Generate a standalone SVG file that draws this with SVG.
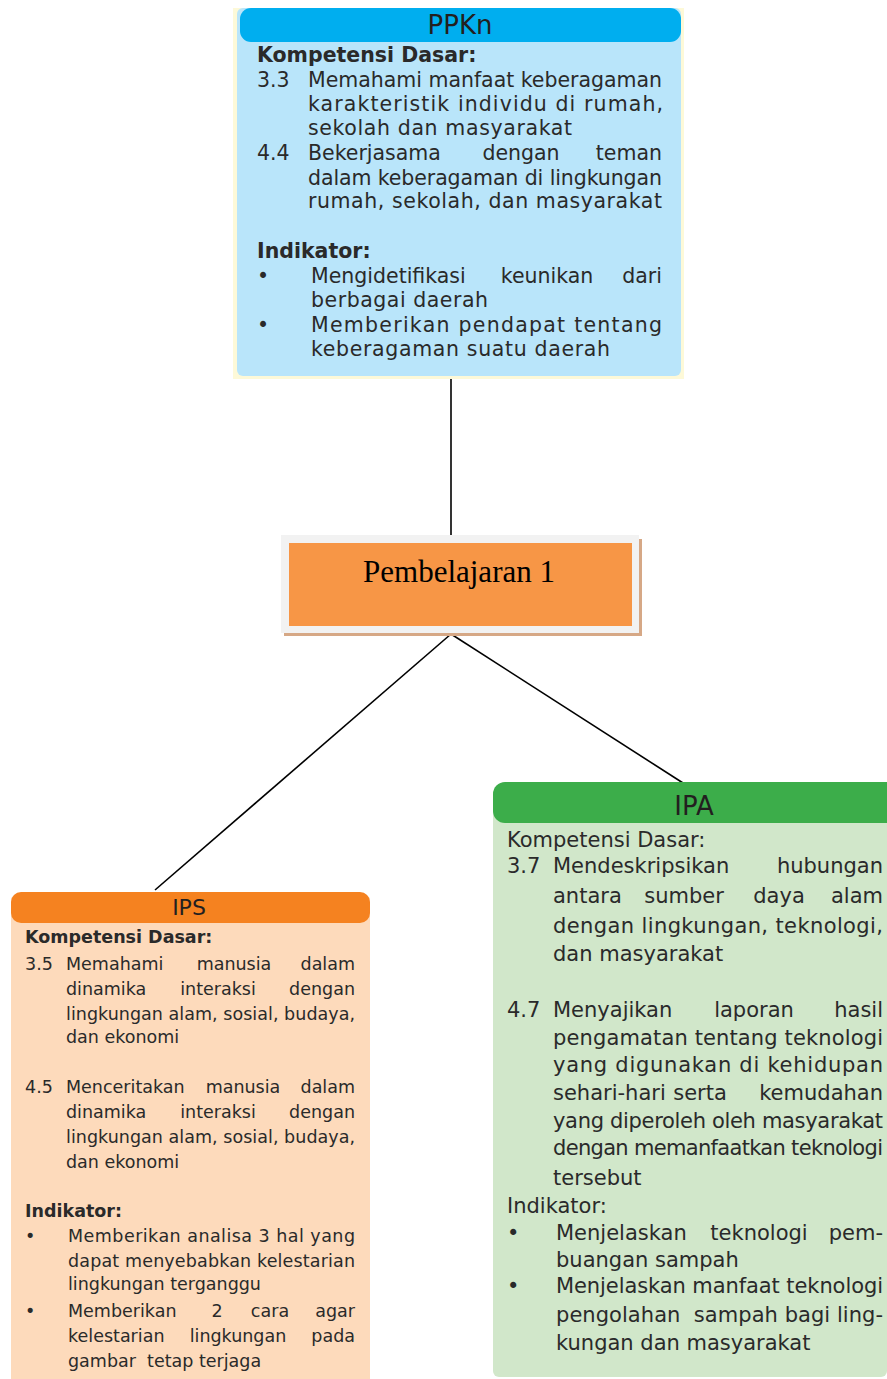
<svg xmlns="http://www.w3.org/2000/svg" width="887" height="1379" viewBox="0 0 887 1379">
<style>
.t{font-family:"DejaVu Sans","Liberation Sans",sans-serif;fill:#2a2a2a}
.p{font-size:20.5px}
.s{font-size:17.5px}
.a{font-size:21px}
.b{font-weight:bold}
.m{text-anchor:middle}
.e{text-anchor:end}
.h{fill:#231f20}
.ln{stroke:#000;stroke-width:1.6;fill:none}
</style>
<rect width="887" height="1379" fill="#ffffff"/>
<g id="connectors">
<line class="ln" x1="451" y1="378" x2="451" y2="536"/>
<line class="ln" x1="451" y1="634" x2="155" y2="890"/>
<line class="ln" x1="451" y1="634" x2="683" y2="783"/>
</g>
<g id="ppkn">
<rect x="233" y="8" width="451" height="371" fill="#fdf9d8"/>
<rect x="237" y="8" width="444" height="368" rx="6" fill="#b9e5fa"/>
<rect x="240" y="8" width="441" height="34" rx="11" fill="#00aeef"/>
<text class="t h" x="460" y="34" font-size="26" text-anchor="middle">PPKn</text>
<text class="t p b" x="257" y="62">Kompetensi Dasar:</text>
<text class="t p" x="257" y="87">3.3</text>
<text class="t p" x="308" y="87" textLength="354">Memahami manfaat keberagaman</text>
<text class="t p" x="308" y="111" textLength="355">karakteristik individu di rumah,</text>
<text class="t p" x="308" y="135" textLength="264">sekolah dan masyarakat</text>
<text class="t p" x="257" y="160">4.4</text>
<text class="t p" x="308" y="160">Bekerjasama</text>
<text class="t p m" x="521" y="160">dengan</text>
<text class="t p e" x="662" y="160">teman</text>
<text class="t p" x="308" y="185" textLength="354">dalam keberagaman di lingkungan</text>
<text class="t p" x="308" y="208" textLength="354">rumah, sekolah, dan masyarakat</text>
<text class="t p b" x="257" y="258">Indikator:</text>
<text class="t p" x="257" y="283">•</text>
<text class="t p" x="311" y="283">Mengidetifikasi</text>
<text class="t p m" x="547" y="283">keunikan</text>
<text class="t p e" x="662" y="283">dari</text>
<text class="t p" x="311" y="307" textLength="177">berbagai daerah</text>
<text class="t p" x="257" y="332">•</text>
<text class="t p" x="311" y="332" textLength="351">Memberikan pendapat tentang</text>
<text class="t p" x="311" y="356" textLength="299">keberagaman suatu daerah</text>
</g>
<g id="pembelajaran">
<rect x="284" y="539" width="358" height="97" fill="#d6a886"/>
<rect x="281" y="535" width="358" height="98" fill="#f2f2f2"/>
<rect x="289" y="543" width="343" height="83" fill="#f79646"/>
<text x="459" y="582" font-family="'Liberation Serif','Times New Roman',serif" font-size="31" text-anchor="middle" fill="#000">Pembelajaran 1</text>
</g>
<g id="ips">
<rect x="11" y="896" width="359" height="490" rx="4" fill="#fddabb"/>
<rect x="11" y="892" width="359" height="31" rx="10" fill="#f58220"/>
<text class="t h" x="189" y="915" font-size="22" text-anchor="middle">IPS</text>
<text class="t s b" x="25" y="943">Kompetensi Dasar:</text>
<text class="t s" x="25" y="970">3.5</text>
<text class="t s" x="66" y="970">Memahami</text>
<text class="t s m" x="234" y="970">manusia</text>
<text class="t s e" x="355" y="970">dalam</text>
<text class="t s" x="66" y="995">dinamika</text>
<text class="t s m" x="218" y="995">interaksi</text>
<text class="t s e" x="355" y="995">dengan</text>
<text class="t s" x="66" y="1020" textLength="289">lingkungan alam, sosial, budaya,</text>
<text class="t s" x="66" y="1043">dan ekonomi</text>
<text class="t s" x="25" y="1093">4.5</text>
<text class="t s" x="66" y="1093">Menceritakan</text>
<text class="t s m" x="243" y="1093">manusia</text>
<text class="t s e" x="355" y="1093">dalam</text>
<text class="t s" x="66" y="1118">dinamika</text>
<text class="t s m" x="218" y="1118">interaksi</text>
<text class="t s e" x="355" y="1118">dengan</text>
<text class="t s" x="66" y="1143" textLength="289">lingkungan alam, sosial, budaya,</text>
<text class="t s" x="66" y="1168">dan ekonomi</text>
<text class="t s b" x="25" y="1217">Indikator:</text>
<text class="t s" x="25" y="1242">•</text>
<text class="t s" x="68" y="1242" textLength="287">Memberikan analisa 3 hal yang</text>
<text class="t s" x="68" y="1267" textLength="287">dapat menyebabkan kelestarian</text>
<text class="t s" x="68" y="1290">lingkungan terganggu</text>
<text class="t s" x="25" y="1317">•</text>
<text class="t s" x="68" y="1317">Memberikan</text>
<text class="t s m" x="217" y="1317">2</text>
<text class="t s m" x="270" y="1317">cara</text>
<text class="t s e" x="355" y="1317">agar</text>
<text class="t s" x="68" y="1342">kelestarian</text>
<text class="t s m" x="238" y="1342">lingkungan</text>
<text class="t s e" x="355" y="1342">pada</text>
<text class="t s" x="68" y="1367" xml:space="preserve">gambar  tetap terjaga</text>
</g>
<g id="ipa">
<rect x="493" y="800" width="394" height="577" rx="6" fill="#d1e7ca"/>
<rect x="493" y="782" width="410" height="41" rx="12" fill="#3cad4a"/>
<text class="t h" x="694" y="815" font-size="26" text-anchor="middle">IPA</text>
<text class="t a" x="507" y="847">Kompetensi Dasar:</text>
<text class="t a" x="507" y="873">3.7</text>
<text class="t a" x="553" y="873">Mendeskripsikan</text>
<text class="t a e" x="883" y="873">hubungan</text>
<text class="t a" x="553" y="903">antara</text>
<text class="t a m" x="684" y="903">sumber</text>
<text class="t a m" x="779" y="903">daya</text>
<text class="t a e" x="883" y="903">alam</text>
<text class="t a" x="553" y="933" textLength="330">dengan lingkungan, teknologi,</text>
<text class="t a" x="553" y="961">dan masyarakat</text>
<text class="t a" x="507" y="1017">4.7</text>
<text class="t a" x="553" y="1017">Menyajikan</text>
<text class="t a m" x="754" y="1017">laporan</text>
<text class="t a e" x="883" y="1017">hasil</text>
<text class="t a" x="553" y="1045" textLength="330">pengamatan tentang teknologi</text>
<text class="t a" x="553" y="1072" textLength="330">yang digunakan di kehidupan</text>
<text class="t a" x="553" y="1100">sehari-hari</text>
<text class="t a m" x="700" y="1100">serta</text>
<text class="t a e" x="883" y="1100">kemudahan</text>
<text class="t a" x="553" y="1128" textLength="330">yang diperoleh oleh masyarakat</text>
<text class="t a" x="553" y="1155" textLength="330">dengan memanfaatkan teknologi</text>
<text class="t a" x="553" y="1185">tersebut</text>
<text class="t a" x="507" y="1213">Indikator:</text>
<text class="t a" x="507" y="1240">•</text>
<text class="t a" x="556" y="1240">Menjelaskan</text>
<text class="t a m" x="759" y="1240">teknologi</text>
<text class="t a e" x="883" y="1240">pem-</text>
<text class="t a" x="556" y="1267">buangan sampah</text>
<text class="t a" x="507" y="1293">•</text>
<text class="t a" x="556" y="1293" textLength="327">Menjelaskan manfaat teknologi</text>
<text class="t a" x="556" y="1322" textLength="327" xml:space="preserve">pengolahan  sampah bagi ling-</text>
<text class="t a" x="556" y="1350">kungan dan masyarakat</text>
</g>
</svg>
